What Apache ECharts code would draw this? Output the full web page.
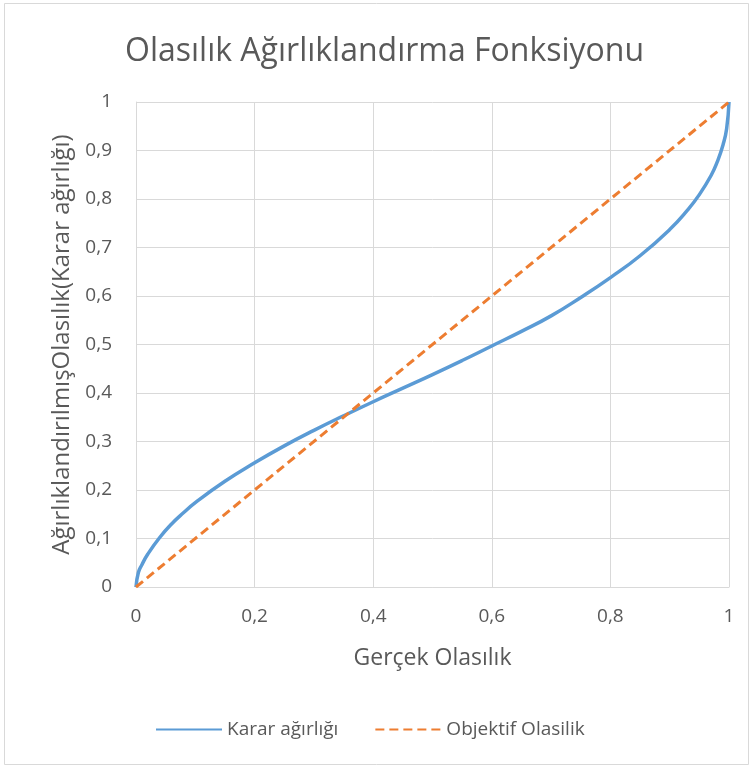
<!DOCTYPE html>
<html><head><meta charset="utf-8">
<script src="https://cdn.jsdelivr.net/npm/echarts@6/dist/echarts.min.js"></script>
<style>html,body{margin:0;padding:0;background:#fff}#c{width:753px;height:767px}</style>
</head><body><div id="c"></div>
<script>
const titleText = 'Olasılık Ağırlıklandırma Fonksiyonu';
const xAxisName = 'Gerçek Olasılık';
const yAxisName = 'AğırlıklandırılmışOlasılık(Karar ağırlığı)';
const seriesNames = ['Karar ağırlığı', 'Objektif Olasilik'];
const kararX = [0, 0.004, 0.01, 0.02, 0.04, 0.06, 0.08, 0.1, 0.15, 0.2, 0.25, 0.3, 0.35, 0.4, 0.45, 0.5, 0.55, 0.6, 0.65, 0.7, 0.75, 0.8, 0.85, 0.9, 0.93, 0.95, 0.97, 0.98, 0.99, 0.996, 1];
const kararY = [0, 0.03, 0.046, 0.068, 0.102, 0.13, 0.153, 0.174, 0.218, 0.256, 0.291, 0.323, 0.353, 0.382, 0.41, 0.438, 0.467, 0.497, 0.527, 0.559, 0.597, 0.638, 0.683, 0.737, 0.777, 0.809, 0.849, 0.876, 0.912, 0.945, 1];
const objX = [0, 1];
const objY = [0, 1];

const fmt = v => String(+(+v).toFixed(1)).replace('.', ',');
const FONT = '"Open Sans", sans-serif';
const GRAY = '#595959';
const chart = echarts.init(document.getElementById('c'));
chart.setOption({
  animation: false,
  backgroundColor: '#fff',
  graphic: [{type:'rect', shape:{x:4.5, y:3.5, width:744, height:761}, style:{fill:'none', stroke:'#d9d9d9', lineWidth:1}, silent:true}],
  title: {text: titleText, left: 120, top: 31, textStyle:{fontFamily: FONT, fontSize: 32, fontWeight: 'normal', color: GRAY}},
  grid: {left: 136, right: 24, top: 102, bottom: 180},
  legend: {bottom: 23, left: 150, itemWidth: 66, itemHeight: 12, itemGap: 36,
    itemStyle: {opacity: 0},
    textStyle:{fontFamily: FONT, fontSize: 19, color: GRAY},
    data: seriesNames},
  xAxis: {type:'value', min:0, max:1, interval:0.2,
    name: xAxisName, nameLocation:'middle', nameGap: 60,
    nameTextStyle:{fontFamily: FONT, fontSize: 23, color: GRAY},
    axisLine:{show:true, lineStyle:{color:'#d9d9d9'}}, axisTick:{show:false},
    axisLabel:{formatter: fmt, margin: 20, fontFamily: FONT, fontSize: 19, color: GRAY},
    splitLine:{show:true, lineStyle:{color:'#d9d9d9'}}},
  yAxis: {type:'value', min:0, max:1, interval:0.1,
    name: yAxisName, nameLocation:'middle', nameGap: 61, nameRotate: 90,
    nameTextStyle:{fontFamily: FONT, fontSize: 24, color: GRAY},
    axisLine:{show:true, lineStyle:{color:'#d9d9d9'}}, axisTick:{show:false},
    axisLabel:{formatter: fmt, margin: 24, fontFamily: FONT, fontSize: 19, color: GRAY},
    splitLine:{show:true, lineStyle:{color:'#d9d9d9'}}},
  series: [
    {name: seriesNames[0], type:'line', smooth: 0.5, showSymbol:false, symbol:'none',
     data: kararX.map((x,i)=>[x, kararY[i]]),
     lineStyle:{color:'#5B9BD5', width:3.5}, itemStyle:{color:'#5B9BD5'}},
    {name: seriesNames[1], type:'line', showSymbol:false, symbol:'none',
     data: objX.map((x,i)=>[x, objY[i]]),
     lineStyle:{color:'#ED7D31', width:3, type:[9,5]}, itemStyle:{color:'#ED7D31'}}
  ]
});
</script></body></html>
